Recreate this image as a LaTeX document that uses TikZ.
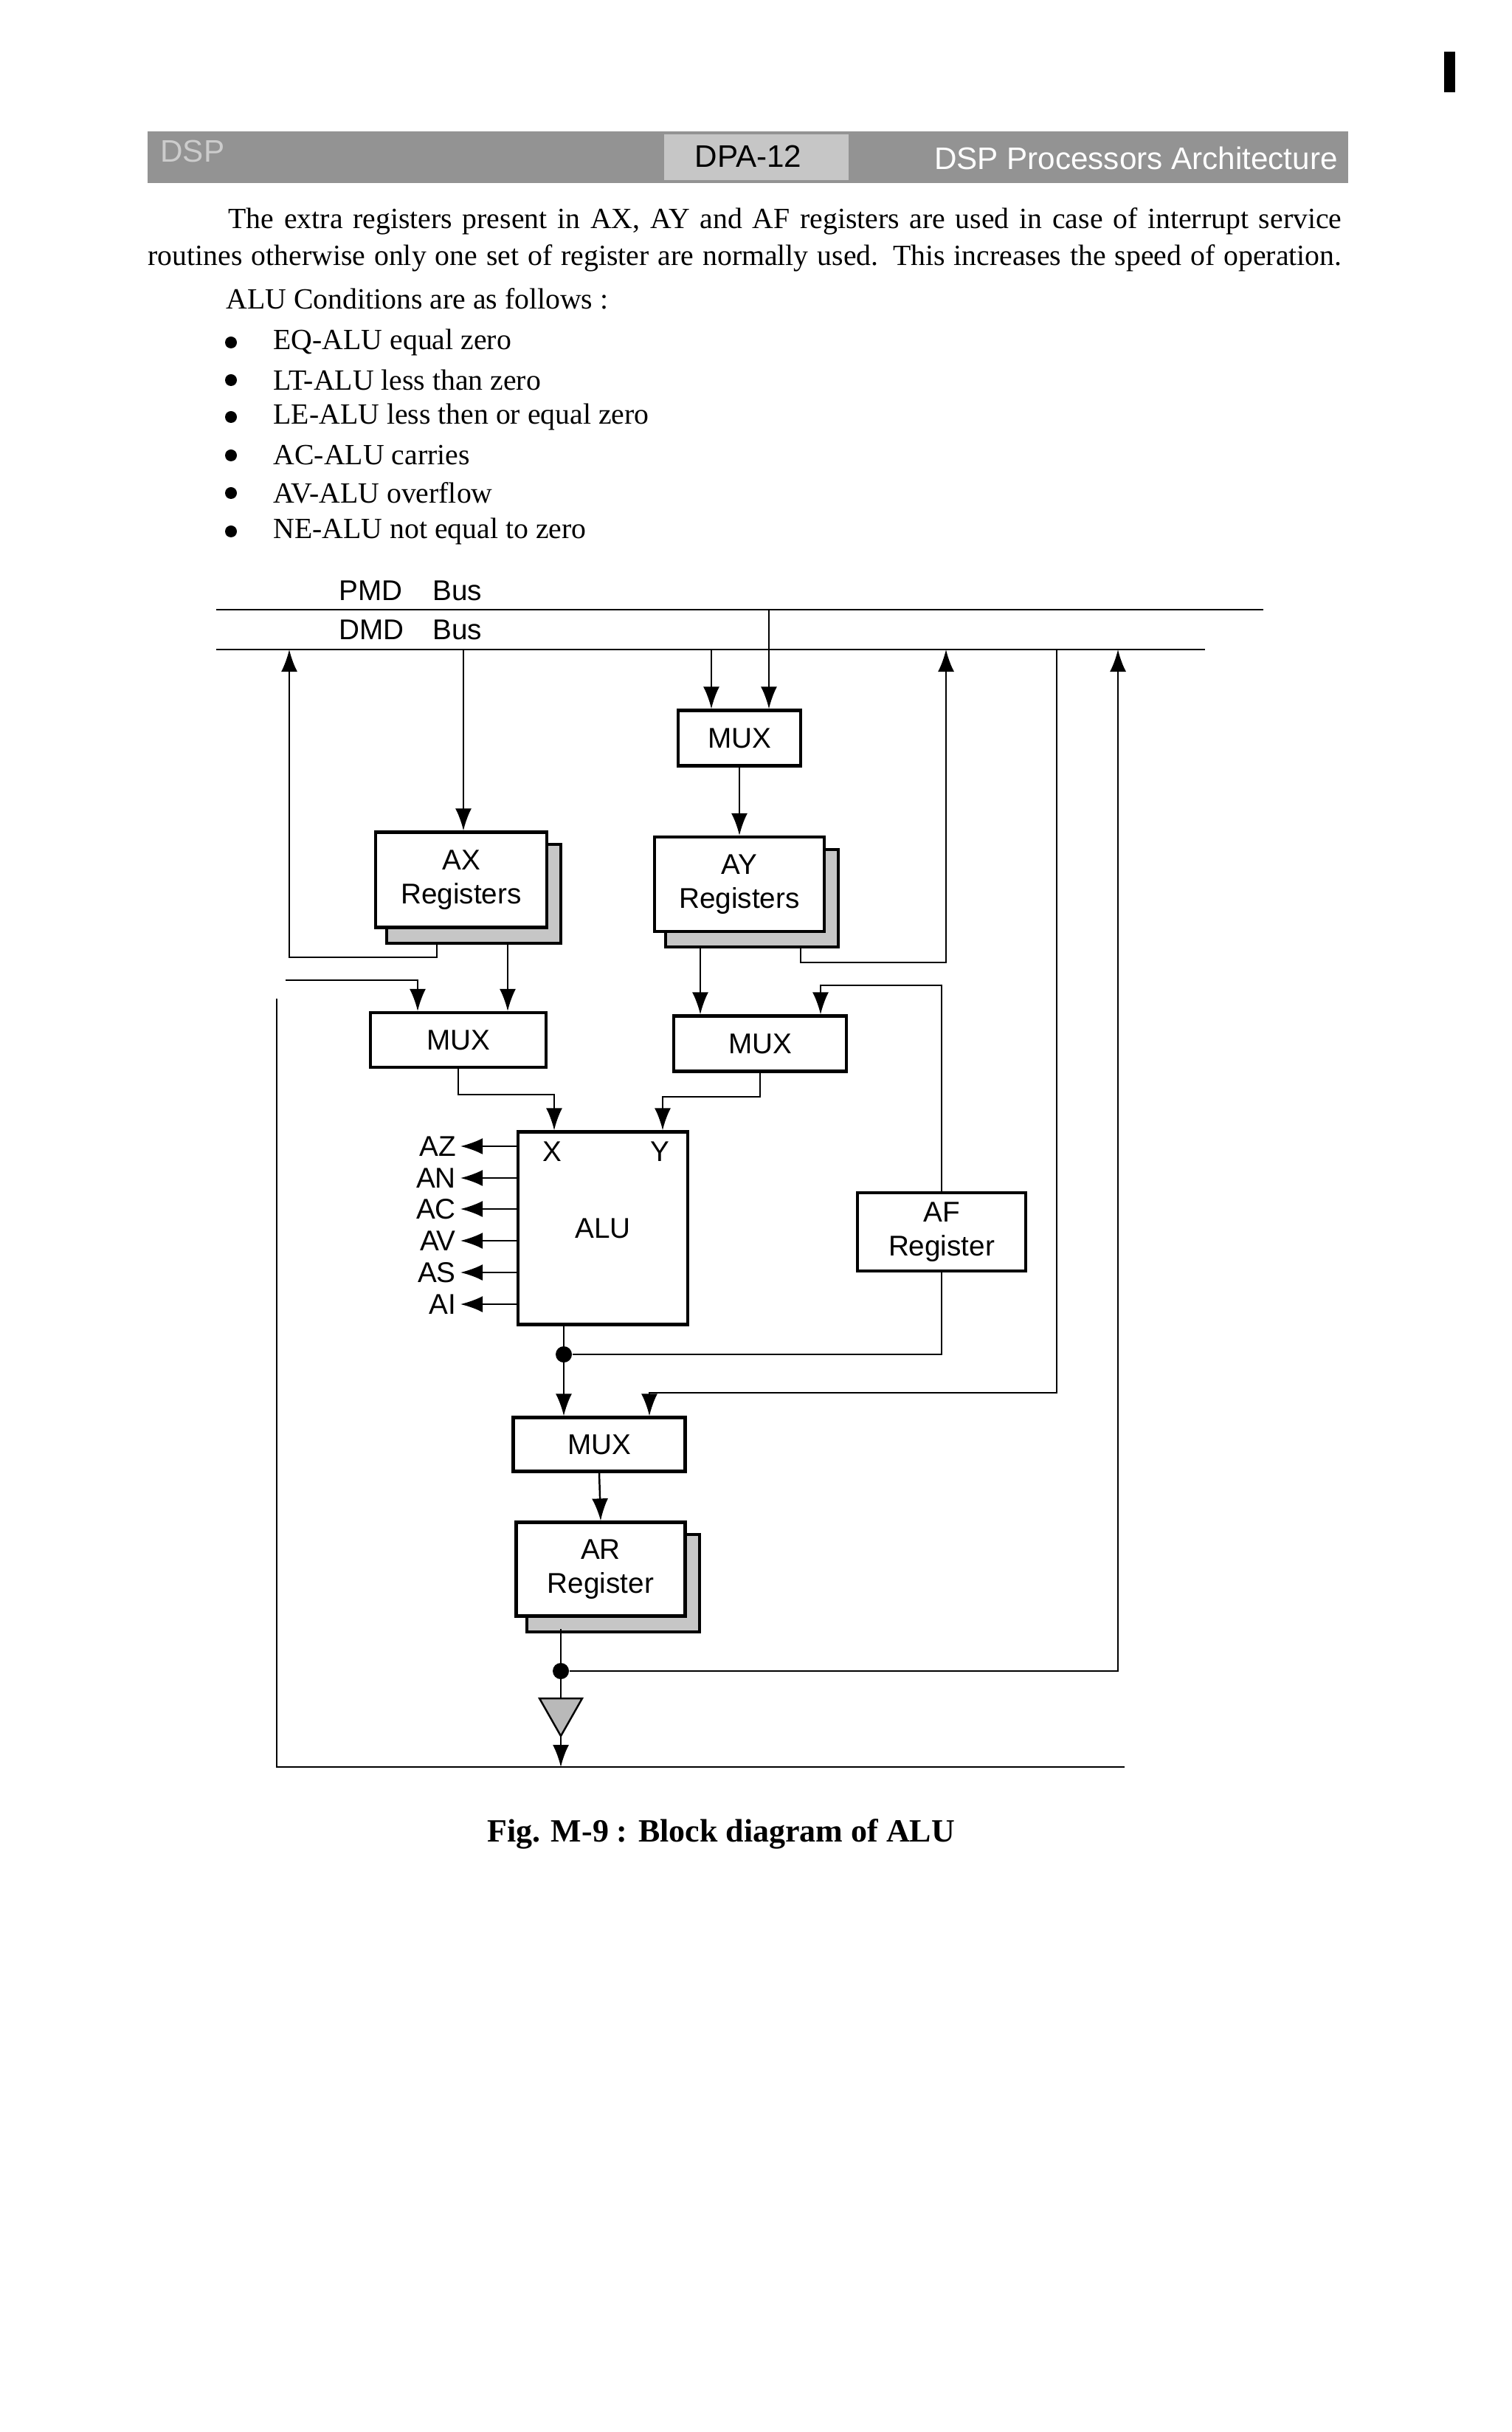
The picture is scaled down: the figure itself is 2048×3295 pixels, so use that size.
\documentclass[tikz,border=0pt]{standalone}
\usepackage{fontspec}
\setmainfont{Liberation Serif}
\newfontfamily\dsans{Liberation Sans}
\usetikzlibrary{arrows.meta,calc}
\begin{document}
\begin{tikzpicture}[x=0.01cm,y=-0.01cm,
  box/.style={draw,line width=1.2pt,fill=white,font=\dsans\fontsize{11}{13}\selectfont,align=center,inner sep=0pt},
  wire/.style={line width=0.7pt},
  arr/.style={wire,-{Latex[length=3mm,width=2.2mm]}},
  flag/.style={font=\dsans\fontsize{11}{13}\selectfont,anchor=east,inner sep=1pt},
  shadowbox/.style={draw,line width=1.2pt,fill=gray!45},
  body/.style={anchor=west,inner sep=0pt,font=\fontsize{11.3}{14}\selectfont},
  dot/.style={circle,fill=black,inner sep=0pt,minimum size=2.2mm}]
\useasboundingbox (0,0) rectangle (2048,3295);
% header band
\fill[gray!85] (200,178) rectangle (1827,248);
\fill[gray!45] (900,182) rectangle (1150,244);
\node[font=\dsans\fontsize{12}{14}\selectfont] (hd) at (1014,212) {DPA-12};
\node[font=\dsans\fontsize{12}{14}\selectfont,text=white,anchor=east] (hr) at (1825,214) {DSP Processors Architecture};
\node[font=\dsans\fontsize{12}{14}\selectfont,text=gray!40,anchor=west] (hl) at (205,205) {DSP};
\fill (1957,70) rectangle (1972,125);
% text
\node[body] (p1) at (309,300) {\makebox[429pt][s]{The extra registers present in AX, AY and AF registers are used in case of interrupt service}};
\node[body] (p2) at (200,350) {\makebox[460pt][s]{routines otherwise only one set of register are normally used. This increases the speed of operation.}};
\node[body] (cond) at (306,405) {ALU Conditions are as follows :};
\foreach \t/\y [count=\i] in {EQ-ALU equal zero/464,LT-ALU less than zero/515,LE-ALU less then or equal zero/565,AC-ALU carries/617,AV-ALU overflow/668,NE-ALU not equal to zero/720}{
  \node[circle,fill=black,inner sep=0pt,minimum size=1.6mm] (b\i) at (313,\y) {};
  \node[body] (it\i) at (370,\y) {\t};
}
% buses
\coordinate (pmdL) at (293,826); \coordinate (pmdR) at (1712,826);
\coordinate (dmdL) at (293,880); \coordinate (dmdR) at (1633,880);
\draw[wire] (pmdL) -- (pmdR);
\draw[wire] (dmdL) -- (dmdR);
\node[flag,anchor=west] (pmd) at (455,800) {PMD};
\node[flag,anchor=west] (pb) at (582,800) {Bus};
\node[flag,anchor=west] (dmd) at (455,853) {DMD};
\node[flag,anchor=west] (db) at (582,853) {Bus};
% boxes with shadows
\def\shad#1{\draw[shadowbox] ([shift={(17,19)}]#1.south west) rectangle ([shift={(17,19)}]#1.north east);}
\node[box,minimum width=1.66cm,minimum height=0.75cm] (muxT) at (1002,1000) {MUX};
\path node[box,minimum width=2.32cm,minimum height=1.29cm] (ax0) at (625,1192) {};
\shad{ax0}
\node[box,minimum width=2.32cm,minimum height=1.29cm] (ax) at (625,1192) {AX\\Registers};
\path node[box,minimum width=2.30cm,minimum height=1.28cm] (ay0) at (1002,1198) {};
\shad{ay0}
\node[box,minimum width=2.30cm,minimum height=1.28cm] (ay) at (1002,1198) {AY\\Registers};
\node[box,minimum width=2.38cm,minimum height=0.74cm] (mux1) at (621,1409) {MUX};
\node[box,minimum width=2.34cm,minimum height=0.75cm] (mux2) at (1030,1414) {MUX};
\node[box,minimum width=2.30cm,minimum height=2.61cm] (alu) at (817,1664) {ALU};
\node[box,minimum width=2.28cm,minimum height=1.06cm] (af) at (1276,1669) {AF\\Register};
\node[box,minimum width=2.33cm,minimum height=0.73cm] (mux3) at (812,1957) {MUX};
\path node[box,minimum width=2.29cm,minimum height=1.27cm] (ar0) at (814,2126) {};
\shad{ar0}
\node[box,minimum width=2.29cm,minimum height=1.27cm] (ar) at (814,2126) {AR\\Register};
\node[flag,anchor=center] (lx) at (748,1560) {X};
\node[flag,anchor=center] (ly) at (894,1560) {Y};
% connectors
\draw[arr] (1042,826) -- (1042,0 |- muxT.north);
\draw[arr] (964,880) -- (964,0 |- muxT.north);
\draw[arr] (628,880) -- (628,0 |- ax.north);
\draw[arr] (muxT.south) -- (ay.north);
\draw[arr] (592,1276) -- (592,1297) -- (392,1297) -- (392,880);
\draw[arr] (688,1276) -- (688,0 |- mux1.north);
\draw[arr] (387,1328) -- (566,1328) -- (566,0 |- mux1.north);
\draw[arr] (949,1281) -- (949,0 |- mux2.north);
\draw[arr] (1085,1281) -- (1085,1304) -- (1282,1304) -- (1282,880);
\draw[arr] (af.north) -- (1276,1335) -- (1112,1335) -- (1112,0 |- mux2.north);
\draw[arr] (mux1.south) -- (621,1483) -- (751,1483) -- (751,0 |- alu.north);
\draw[arr] (mux2.south) -- (1030,1486) -- (898,1486) -- (898,0 |- alu.north);
\foreach \n/\y in {AZ/1553,AN/1596,AC/1638,AV/1681,AS/1724,AI/1767}{
  \coordinate (t\n) at (624,\y);
  \draw[arr] (alu.west |- t\n) -- (t\n);
  \node[flag] (l\n) at (622,\y) {\n};
}
\node[dot] (j1) at (764,1835) {};
\draw[arr] (764,0 |- alu.south) -- (764,0 |- mux3.north);
\draw[wire] (af.south) -- (1276,1835) -- (j1);
\draw[arr] (1432,880) -- (1432,1887) -- (880,1887) -- (880,0 |- mux3.north);
\draw[arr] (mux3.south) -- (ar.north);
\coordinate (trT) at (760,2301);
\draw[wire,fill=gray!55] (731,2301) -- (789,2301) -- (760,2352) -- cycle;
\coordinate (trA) at (760,2352);
\node[dot] (j2) at (760,2264) {};
\draw[wire] (760,2207) -- (trT);
\draw[arr] (j2) -- (1515,2264) -- (1515,880);
\draw[arr] (trA) -- (760,2394);
\draw[wire] (375,1353) -- (375,2394) -- (1524,2394);
\node[font=\bfseries\fontsize{12.5}{15}\selectfont] (cap) at (977,2485) {Fig. M-9 : Block diagram of ALU};
\end{tikzpicture}
\end{document}
